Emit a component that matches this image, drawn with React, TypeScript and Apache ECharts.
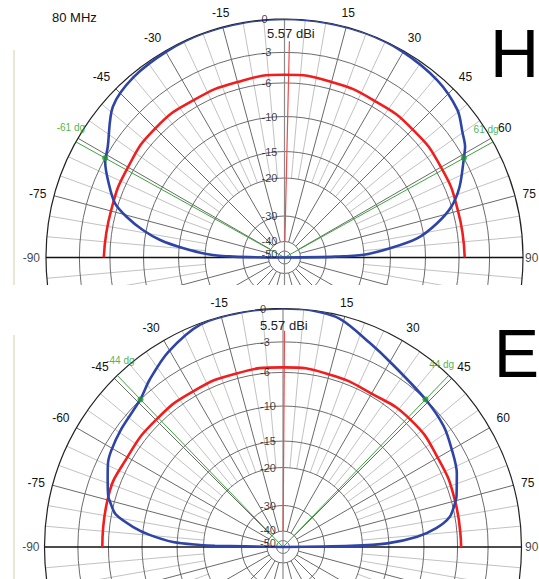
import React, { useEffect, useRef } from 'react';
import * as echarts from 'echarts';

// dB rings of the log-type radial scale and their relative radius
const RING_DB = [0, -3, -6, -10, -15, -20, -30, -40, -50];
const RING_R = [1, 0.86, 0.732, 0.591, 0.444, 0.333, 0.174, 0.067, 0.027];

const FREQ_LABEL = '80 MHz';
const GAIN_LABEL = '5.57 dBi';

// H-plane
const H_BLUE_ANGLE = [-90, -89, -87.4, -84.7, -82, -79, -75.6, -72.2, -67.1, -62, -58, -48.7, -40, -29.5, -20, -10, 0, 10, 20, 29.7, 40.7, 49.5, 55, 58.5, 61, 68, 73, 77.4, 81.8, 85, 88, 89, 90];
const H_BLUE_DB = [-60, -27.5, -20.4, -15.7, -12.2, -9.6, -7.4, -5.65, -4.4, -3.2, -2.7, -0.9, -0.3, -0.1, 0, 0, 0, 0, 0, -0.1, -0.4, -1.0, -1.9, -2.4, -3.0, -4.6, -6.0, -8.2, -11, -15, -20, -27.5, -60];
const H_RED_ANGLE = [-90, -75, -60, -45, -30, -15, 0, 15, 30, 45, 60, 75, 90];
const H_RED_DB = [-5.4, -5.5, -5.4, -5.2, -5.3, -5.3, -5.2, -5.3, -5.4, -5.35, -5.4, -5.5, -5.45];
const H_BEAM = 61;
const H_PEAK_ANGLE = 1.3;

// E-plane
const E_BLUE_ANGLE = [-90, -89, -88.6, -87.4, -84.8, -82.4, -79, -75.4, -74, -69, -64.5, -60.7, -54.3, -44.2, -38.5, -30.5, -20.3, -10, 0, 6.5, 14, 23, 31, 44.2, 53.1, 60, 67, 73.8, 75.6, 79.7, 83, 85.6, 88, 89, 90];
const E_BLUE_DB = [-60, -23, -19.3, -14.4, -11, -8.8, -6.5, -5.6, -5.3, -4.7, -4.1, -3.8, -3.5, -3.0, -2.2, -1.1, -0.1, 0, 0, 0, -0.3, -1.5, -2.3, -3.0, -3.4, -4.0, -4.6, -5.4, -5.7, -6.6, -8.4, -10.9, -15.3, -23, -60];
const E_RED_ANGLE = [-90, -75, -60, -45, -30, -15, 0, 15, 30, 45, 60, 75, 90];
const E_RED_DB = [-5.4, -5.3, -5.5, -5.5, -5.5, -5.5, -5.5, -5.6, -5.75, -5.45, -5.6, -5.65, -5.65];
const E_BEAM = 44;
const E_PEAK_ANGLE = 0.4;

const PEAK_LINE_DB = [-2, -40];
const TOP_ANGLE_LABELS = [-75, -45, -30, -15, 15, 30, 45, 60, 75];
const BOT_ANGLE_LABELS = [-75, -60, -45, -30, -15, 15, 30, 45, 60, 75];
const EDGE_LABELS = [-90, 90];

const FONT = "'Liberation Sans', Arial, sans-serif";
const BLUE = '#2e44a6';
const RED = '#f01e1e';
const GREEN = '#3aa53a';

function dbToR(db: number): number {
  if (db >= RING_DB[0]) return RING_R[0];
  for (let i = 1; i < RING_DB.length; i++) {
    if (db >= RING_DB[i]) {
      const t = (RING_DB[i - 1] - db) / (RING_DB[i - 1] - RING_DB[i]);
      return RING_R[i - 1] + t * (RING_R[i] - RING_R[i - 1]);
    }
  }
  const last = RING_R[RING_R.length - 1];
  return Math.max(0, last * (1 - (RING_DB[RING_DB.length - 1] - db) / 10));
}

interface Cfg {
  center: [number, number];
  radius: number;
  blueAngle: number[];
  blueDb: number[];
  redAngle: number[];
  redDb: number[];
  beam: number;
  peakAngle: number;
  angleLabels: number[];
  beamLabelOffsets: [number, number][];
  edgeOffsets: [number, number];
  graphics: any[];
}

function buildOption(cfg: Cfg) {
  const gridAngles: number[] = [];
  for (let a = -180; a < 180; a += 5) {
    if (a % 90 !== 0) gridAngles.push(a);
  }
  return {
    animation: false,
    polar: { center: cfg.center, radius: [0, cfg.radius] },
    angleAxis: {
      type: 'value',
      min: -180,
      max: 180,
      interval: 15,
      startAngle: 270,
      clockwise: true,
      axisLine: { show: false },
      axisTick: { show: false },
      splitLine: { show: false },
      axisLabel: {
        margin: 8,
        fontSize: 12,
        color: '#111',
        fontFamily: FONT,
        formatter: (v: number) => (cfg.angleLabels.indexOf(v) >= 0 ? String(v) : ''),
      },
    },
    radiusAxis: {
      type: 'value',
      min: 0,
      max: 1,
      axisLine: { show: false },
      axisTick: { show: false },
      axisLabel: { show: false },
      splitLine: { show: false },
    },
    graphic: cfg.graphics,
    series: [
      {
        type: 'custom',
        coordinateSystem: 'polar',
        silent: true,
        z: 1,
        data: gridAngles.map((a) => [1, a]),
        renderItem: (params: any, api: any) => {
          const a = gridAngles[params.dataIndex];
          const major = a % 15 === 0;
          const p0 = api.coord([dbToR(major ? -40 : -20), a]);
          const p1 = api.coord([1, a]);
          return {
            type: 'line',
            shape: { x1: p0[0], y1: p0[1], x2: p1[0], y2: p1[1] },
            style: { stroke: major ? '#6a6a6a' : '#c2c2c2', lineWidth: 1 },
          };
        },
      },
      {
        type: 'custom',
        coordinateSystem: 'polar',
        silent: true,
        z: 2,
        data: RING_DB.map((db) => [dbToR(db), 0]),
        renderItem: (params: any, api: any) => {
          const db = RING_DB[params.dataIndex];
          const c = api.coord([0, 0]);
          const p = api.coord([dbToR(db), 0]);
          const r = Math.hypot(p[0] - c[0], p[1] - c[1]);
          const outer = db === 0;
          return {
            type: 'circle',
            shape: { cx: c[0], cy: c[1], r },
            style: { fill: 'none', stroke: outer ? '#222' : '#6c6c6c', lineWidth: outer ? 1.2 : 1 },
          };
        },
      },
      {
        type: 'line',
        coordinateSystem: 'polar',
        silent: true,
        symbol: 'none',
        z: 3,
        data: [[1, 0], [1, 180]],
        lineStyle: { color: '#8a8a8a', width: 1.2 },
      },
      {
        type: 'line',
        coordinateSystem: 'polar',
        silent: true,
        symbol: 'none',
        z: 3,
        data: [[1, -90], [1, 90]],
        lineStyle: { color: '#111', width: 1.5 },
      },
      {
        type: 'line',
        coordinateSystem: 'polar',
        symbol: 'none',
        z: 4,
        data: [[1, -cfg.beam], [0, 0], [1, cfg.beam]],
        lineStyle: { color: GREEN, width: 1 },
      },
      {
        type: 'line',
        coordinateSystem: 'polar',
        symbol: 'none',
        z: 4,
        data: PEAK_LINE_DB.map((db) => [dbToR(db), cfg.peakAngle]),
        lineStyle: { color: '#f04a4a', width: 1.2 },
      },
      {
        type: 'line',
        coordinateSystem: 'polar',
        symbol: 'none',
        smooth: 0.5,
        z: 5,
        data: cfg.redAngle.map((a, i) => [dbToR(cfg.redDb[i]), a]),
        lineStyle: { color: RED, width: 2.6 },
      },
      {
        type: 'line',
        coordinateSystem: 'polar',
        symbol: 'none',
        smooth: 0.3,
        z: 6,
        data: cfg.blueAngle.map((a, i) => [dbToR(cfg.blueDb[i]), a]),
        lineStyle: { color: BLUE, width: 2.6 },
      },
      {
        type: 'scatter',
        coordinateSystem: 'polar',
        z: 7,
        symbolSize: 6,
        itemStyle: { color: '#1f9a2f' },
        data: [[dbToR(-3), -cfg.beam], [dbToR(-3), cfg.beam]],
      },
      {
        type: 'scatter',
        coordinateSystem: 'polar',
        z: 7,
        symbolSize: 0.1,
        itemStyle: { color: 'transparent' },
        label: {
          show: true,
          formatter: '{b}',
          position: 'inside',
          color: '#22a022',
          textBorderWidth: 0,
          fontSize: 10,
          fontFamily: FONT,
        },
        data: [
          { name: `${-cfg.beam} dg`, value: [1, -cfg.beam], label: { offset: cfg.beamLabelOffsets[0] } },
          { name: `${cfg.beam} dg`, value: [1, cfg.beam], label: { offset: cfg.beamLabelOffsets[1] } },
        ],
      },
      {
        type: 'scatter',
        coordinateSystem: 'polar',
        z: 7,
        symbolSize: 0.1,
        itemStyle: { color: 'transparent' },
        label: {
          show: true,
          formatter: '{b}',
          position: 'inside',
          verticalAlign: 'middle',
          color: '#111',
          textBorderWidth: 0,
          fontSize: 12,
          fontFamily: FONT,
        },
        data: EDGE_LABELS.map((a) => ({
          name: String(a),
          value: [1, a],
          label: a < 0 ? { align: 'right', offset: [cfg.edgeOffsets[0], 0] } : { align: 'left', offset: [cfg.edgeOffsets[1], 0] },
        })),
      },
      {
        type: 'scatter',
        coordinateSystem: 'polar',
        z: 8,
        symbolSize: 0.1,
        itemStyle: { color: 'transparent' },
        label: {
          show: true,
          formatter: '{b}',
          position: 'inside',
          align: 'left',
          verticalAlign: 'middle',
          color: '#111',
          textBorderWidth: 0,
          fontSize: 11,
          fontFamily: FONT,
        },
        data: RING_DB.map((db) => ({
          name: String(db),
          value: [dbToR(db), 0],
          label: { offset: [-23, db === -50 ? 2.5 : db === -40 ? -1 : 0] },
        })),
      },
    ],
  };
}

const TOP_CFG: Cfg = {
  center: [284.5, 257.5],
  radius: 238.5,
  blueAngle: H_BLUE_ANGLE,
  blueDb: H_BLUE_DB,
  redAngle: H_RED_ANGLE,
  redDb: H_RED_DB,
  beam: H_BEAM,
  peakAngle: H_PEAK_ANGLE,
  angleLabels: TOP_ANGLE_LABELS,
  beamLabelOffsets: [[-5, -14], [-7, -12]],
  edgeOffsets: [-6, 2],
  graphics: [
    { type: 'line', shape: { x1: 14, y1: 50, x2: 14, y2: 285 }, style: { stroke: '#e9e7d6', lineWidth: 2 } },
    { type: 'text', x: 52, y: 17, style: { text: FREQ_LABEL, font: `13px ${FONT}`, fill: '#111', textVerticalAlign: 'middle' } },
    { type: 'text', x: 267, y: 33, z: 10, style: { text: GAIN_LABEL, font: `13px ${FONT}`, fill: '#222', textVerticalAlign: 'middle' } },
    { type: 'text', x: 539, y: 52.5, style: { text: 'H', font: `68px ${FONT}`, fill: '#000', textAlign: 'right', textVerticalAlign: 'middle' } },
  ],
};

const BOT_CFG: Cfg = {
  center: [283, 262],
  radius: 238.5,
  blueAngle: E_BLUE_ANGLE,
  blueDb: E_BLUE_DB,
  redAngle: E_RED_ANGLE,
  redDb: E_RED_DB,
  beam: E_BEAM,
  peakAngle: E_PEAK_ANGLE,
  angleLabels: BOT_ANGLE_LABELS,
  beamLabelOffsets: [[3, -15], [-7, -11]],
  edgeOffsets: [-5, 3.5],
  graphics: [
    { type: 'line', shape: { x1: 14, y1: 50, x2: 14, y2: 294 }, style: { stroke: '#e9e7d6', lineWidth: 2 } },
    { type: 'text', x: 260, y: 40, z: 10, style: { text: GAIN_LABEL, font: `13px ${FONT}`, fill: '#222', textVerticalAlign: 'middle' } },
    { type: 'text', x: 539, y: 67.5, style: { text: 'E', font: `68px ${FONT}`, fill: '#000', textAlign: 'right', textVerticalAlign: 'middle' } },
  ],
};

export default function App() {
  const topRef = useRef<HTMLDivElement>(null);
  const botRef = useRef<HTMLDivElement>(null);
  useEffect(() => {
    const c1 = echarts.init(topRef.current as HTMLDivElement, null, { renderer: 'svg' });
    c1.setOption(buildOption(TOP_CFG) as any);
    const c2 = echarts.init(botRef.current as HTMLDivElement, null, { renderer: 'svg' });
    c2.setOption(buildOption(BOT_CFG) as any);
    return () => {
      c1.dispose();
      c2.dispose();
    };
  }, []);
  return (
    <div style={{ position: 'fixed', left: 0, top: 0, width: 539, height: 579, background: '#fff', overflow: 'hidden' }}>
      <div ref={topRef} style={{ position: 'absolute', left: 0, top: 0, width: 539, height: 285 }} />
      <div ref={botRef} style={{ position: 'absolute', left: 0, top: 285, width: 539, height: 294 }} />
    </div>
  );
}
